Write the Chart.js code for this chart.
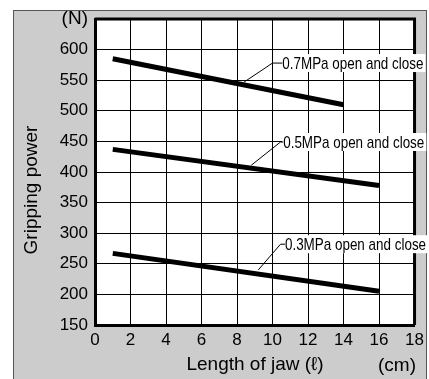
<!DOCTYPE html>
<html>
<head>
<meta charset="utf-8">
<script src="https://cdn.jsdelivr.net/npm/chart.js@4.4.1/dist/chart.umd.min.js"></script>
<style>
    body { margin: 0; background: #fff; }
    #wrap { width: 429px; height: 379px; }
</style>
</head>
<body>
<div id="wrap"><canvas id="gripChart" width="429" height="379"></canvas></div>
<script>
// Data grafik gaya cengkeram
const jawLength07 = [1, 14];
const power07 = [585, 510];
const jawLength05 = [1, 16];
const power05 = [437, 378];
const jawLength03 = [1, 16];
const power03 = [267, 205];

const seriesLabels = ['0.7MPa open and close', '0.5MPa open and close', '0.3MPa open and close'];
const xTicks = [0, 2, 4, 6, 8, 10, 12, 14, 16, 18];
const yTicks = [150, 200, 250, 300, 350, 400, 450, 500, 550, 600, 650];

// titik garis penunjuk label (satuan data): awal, sudut, posisi teks
const callouts = [
    { from: [8.4, 547], corner: [10.0, 578], textX: 10.55 },
    { from: [8.8, 411], corner: [10.45, 449], textX: 10.6 },
    { from: [9.2, 240], corner: [10.45, 282], textX: 10.7 }
];

const FONT = '"Liberation Sans", Arial, sans-serif';
const NARROW_SCALE = 0.79; // huruf sempit seperti Helvetica Narrow

function toPoints(xs, ys) {
    return xs.map((x, i) => ({ x: x, y: ys[i] }));
}

const framePlugin = {
    id: 'frame',
    beforeDraw: function(chart) {
        const ctx = chart.ctx;
        const a = chart.chartArea;
        ctx.save();
        ctx.fillStyle = '#fff';
        ctx.fillRect(0, 0, chart.width, chart.height);
        // bingkai abu-abu
        ctx.fillStyle = '#cccccc';
        ctx.fillRect(13, 10, 414, 380);
        ctx.strokeStyle = '#555';
        ctx.lineWidth = 1;
        ctx.strokeRect(13.5, 10.5, 413, 380);
        ctx.fillStyle = '#fff';
        ctx.fillRect(a.left, a.top, a.right - a.left, a.bottom - a.top);
        ctx.restore();
    },
    afterDraw: function(chart) {
        const ctx = chart.ctx;
        const a = chart.chartArea;
        const xs = chart.scales.x;
        const ys = chart.scales.y;
        ctx.save();

        // garis tepi atas & kanan
        ctx.strokeStyle = '#000';
        ctx.lineWidth = 3;
        ctx.beginPath();
        ctx.moveTo(a.left, a.top);
        ctx.lineTo(a.right, a.top);
        ctx.lineTo(a.right, a.bottom);
        ctx.stroke();

        // judul sumbu
        ctx.fillStyle = '#000';
        ctx.font = '19px ' + FONT;
        ctx.textAlign = 'center';
        ctx.textBaseline = 'middle';
        ctx.fillText('Length of jaw (\u2113)', 255, 365);
        ctx.fillText('(cm)', 397, 366);
        ctx.translate(32, 190);
        ctx.rotate(-Math.PI / 2);
        ctx.fillText('Gripping power', 0, 0);
        ctx.setTransform(1, 0, 0, 1, 0, 0);

        // label seri dengan garis penunjuk
        ctx.font = '17px ' + FONT;
        ctx.textAlign = 'left';
        callouts.forEach(function(c, i) {
            const x0 = xs.getPixelForValue(c.from[0]);
            const y0 = ys.getPixelForValue(c.from[1]);
            const x1 = xs.getPixelForValue(c.corner[0]);
            const y1 = ys.getPixelForValue(c.corner[1]);
            const tx = xs.getPixelForValue(c.textX);
            const w = ctx.measureText(seriesLabels[i]).width * NARROW_SCALE;
            ctx.fillStyle = '#fff';
            ctx.fillRect(tx - 1, y1 - 9, w + 3, 18);
            ctx.strokeStyle = '#000';
            ctx.lineWidth = 1;
            ctx.beginPath();
            ctx.moveTo(x0, y0);
            ctx.lineTo(x1, y1);
            ctx.lineTo(tx, y1);
            ctx.stroke();
            ctx.save();
            ctx.translate(tx, y1 + 1);
            ctx.scale(NARROW_SCALE, 1);
            ctx.fillStyle = '#000';
            ctx.fillText(seriesLabels[i], 0, 0);
            ctx.restore();
        });
        ctx.restore();
    }
};

const lineStyle = {
    borderColor: '#000',
    borderWidth: 5,
    pointRadius: 0,
    fill: false,
    tension: 0
};

new Chart(document.getElementById('gripChart'), {
    type: 'line',
    data: {
        datasets: [
            Object.assign({ label: seriesLabels[0], data: toPoints(jawLength07, power07) }, lineStyle),
            Object.assign({ label: seriesLabels[1], data: toPoints(jawLength05, power05) }, lineStyle),
            Object.assign({ label: seriesLabels[2], data: toPoints(jawLength03, power03) }, lineStyle)
        ]
    },
    options: {
        responsive: false,
        animation: false,
        layout: { padding: { top: 19, right: 12, left: 0, bottom: 0 } },
        plugins: {
            legend: { display: false },
            tooltip: { enabled: false }
        },
        scales: {
            x: {
                type: 'linear',
                min: xTicks[0],
                max: xTicks[xTicks.length - 1],
                afterBuildTicks: function(scale) {
                    scale.ticks = xTicks.map(v => ({ value: v }));
                },
                afterFit: function(scale) { scale.height = 54; },
                grid: { color: '#000', lineWidth: 1, drawTicks: false },
                border: { color: '#000', width: 3 },
                ticks: {
                    color: '#000',
                    padding: 5,
                    maxRotation: 0,
                    font: { family: FONT, size: 17 }
                }
            },
            y: {
                min: yTicks[0],
                max: yTicks[yTicks.length - 1],
                afterBuildTicks: function(scale) {
                    scale.ticks = yTicks.map(v => ({ value: v }));
                },
                afterFit: function(scale) { scale.width = 95; },
                grid: { color: '#000', lineWidth: 1, drawTicks: false },
                border: { color: '#000', width: 3 },
                ticks: {
                    color: '#000',
                    padding: 7,
                    font: function(c) {
                        // label satuan (N) sedikit lebih besar
                        const big = c.tick && c.tick.value === 650;
                        return { family: FONT, size: big ? 19 : 17 };
                    },
                    callback: function(v) { return v === 650 ? '(N)' : v; }
                }
            }
        }
    },
    plugins: [framePlugin]
});
</script>
</body>
</html>
